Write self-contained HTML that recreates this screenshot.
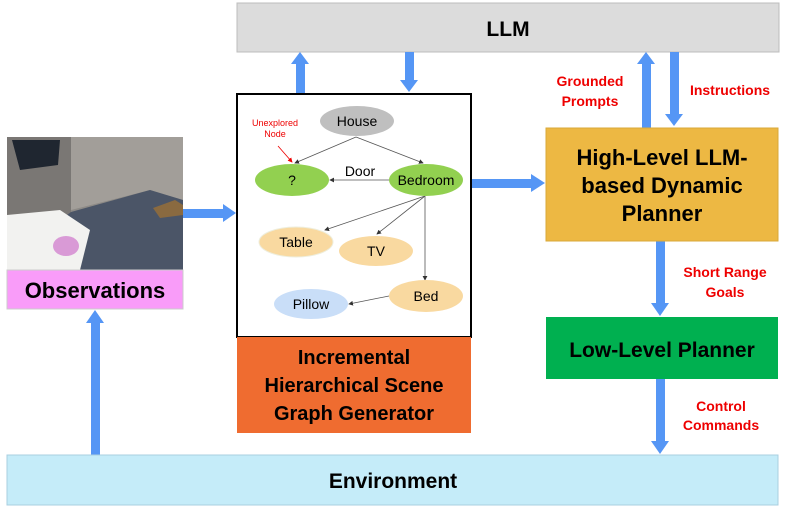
<!DOCTYPE html>
<html><head><meta charset="utf-8"><style>body{margin:0;background:#fff}svg{display:block}</style></head><body>
<svg width="785" height="511" viewBox="0 0 785 511" xmlns="http://www.w3.org/2000/svg" font-family="Liberation Sans, Arial, sans-serif">
<defs>
<marker id="m" markerWidth="6" markerHeight="6" refX="5" refY="3" orient="auto"><path d="M0,0 L6,3 L0,6z" fill="#333"/></marker>
<marker id="mr" markerWidth="6" markerHeight="6" refX="5" refY="3" orient="auto"><path d="M0,0 L6,3 L0,6z" fill="#e00"/></marker>
</defs>
<!-- LLM -->
<rect x="237" y="3" width="542" height="49" fill="#dcdcdc" stroke="#bdbdbd"/>
<text x="508" y="36" font-size="21" font-weight="bold" text-anchor="middle">LLM</text>
<g fill="#5596f5">
<!-- up x300 -->
<rect x="296" y="62" width="9" height="32"/><path d="M291,64 L300,52 L309,64z"/>
<rect x="405" y="52" width="9" height="30"/><path d="M400,80 L409,92 L418,80z"/>
<rect x="642" y="62" width="9" height="66"/><path d="M637,64 L646,52 L655,64z"/>
<rect x="670" y="52" width="9" height="64"/><path d="M665,114 L674,126 L683,114z"/>
<!-- obs->graph -->
<rect x="183" y="209" width="42" height="9"/><path d="M223,204 L236,213 L223,222z"/>
<!-- graph->planner -->
<rect x="471" y="179" width="62" height="9"/><path d="M531,174 L545,183 L531,192z"/>
<rect x="656" y="241" width="9" height="64"/><path d="M651,303 L660,316 L669,303z"/>
<rect x="656" y="379" width="9" height="64"/><path d="M651,441 L660,454 L669,441z"/>
<rect x="91" y="321" width="9" height="134"/><path d="M86,323 L95,310 L104,323z"/>
</g>
<!-- Observation image -->
<rect x="7" y="137" width="176" height="133" fill="#8d8a86"/>
<path d="M7,137 L71,137 L71,225 L7,260z" fill="#7a7774"/>
<path d="M71,137 L183,137 L183,200 L150,190 L71,210z" fill="#a29e99"/>
<path d="M7,260 L71,212 L150,190 L183,200 L183,270 L7,270z" fill="#4b5567"/>
<path d="M12,140 L60,140 L58,165 L20,170z" fill="#1f2630"/>
<path d="M7,215 L60,210 L90,230 L80,270 L7,270z" fill="#f2f2f0"/>
<ellipse cx="66" cy="246" rx="13" ry="10" fill="#d99ad6"/>
<path d="M153,208 L175,200 L183,205 L183,215 L160,218z" fill="#8a6a40"/>
<rect x="7" y="270" width="176" height="39" fill="#f99cf9" stroke="#ccc"/>
<text x="95" y="298" font-size="22" font-weight="bold" text-anchor="middle">Observations</text>
<!-- Graph box -->
<rect x="237" y="94" width="234" height="243" fill="#fff" stroke="#000" stroke-width="2"/>
<rect x="237" y="337" width="234" height="96" fill="#ef6c30"/>
<g font-size="20" font-weight="bold" text-anchor="middle">
<text x="354" y="364">Incremental</text>
<text x="354" y="392">Hierarchical Scene</text>
<text x="354" y="420">Graph Generator</text>
</g>
<g stroke="#555" stroke-width="0.8" fill="none" marker-end="url(#m)">
<line x1="356" y1="137" x2="295" y2="163"/>
<line x1="356" y1="137" x2="423" y2="163"/>
<line x1="389" y1="180" x2="330" y2="180"/>
<line x1="425" y1="196" x2="325" y2="230"/>
<line x1="425" y1="196" x2="377" y2="234"/>
<line x1="425" y1="196" x2="425" y2="280"/>
<line x1="389" y1="296" x2="349" y2="304"/>
</g>
<line x1="278" y1="146" x2="292" y2="162" stroke="#e00" stroke-width="0.8" marker-end="url(#mr)"/>
<text x="275" y="126" font-size="9" fill="#e00" text-anchor="middle">Unexplored</text>
<text x="275" y="137" font-size="9" fill="#e00" text-anchor="middle">Node</text>
<g font-size="14" text-anchor="middle">
<ellipse cx="357" cy="121" rx="37" ry="15" fill="#bfbfbf"/><text x="357" y="126">House</text>
<ellipse cx="292" cy="180" rx="37" ry="16" fill="#92d050"/><text x="292" y="185">?</text>
<ellipse cx="426" cy="180" rx="37" ry="16" fill="#92d050"/><text x="426" y="185">Bedroom</text>
<text x="360" y="176">Door</text>
<ellipse cx="296" cy="242" rx="37" ry="15" fill="#f9d9a0" stroke="#eed"/><text x="296" y="247">Table</text>
<ellipse cx="376" cy="251" rx="37" ry="15" fill="#f9d9a0"/><text x="376" y="256">TV</text>
<ellipse cx="426" cy="296" rx="37" ry="16" fill="#f9d9a0"/><text x="426" y="301">Bed</text>
<ellipse cx="311" cy="304" rx="37" ry="15" fill="#c9def8"/><text x="311" y="309">Pillow</text>
</g>
<!-- Planners -->
<rect x="546" y="128" width="232" height="113" fill="#edb843" stroke="#d9a93a"/>
<g font-size="22" font-weight="bold" text-anchor="middle">
<text x="662" y="165">High-Level LLM-</text>
<text x="662" y="193">based Dynamic</text>
<text x="662" y="221">Planner</text>
<rect x="546" y="317" width="232" height="62" fill="#00b050"/>
<text x="662" y="357" font-size="21">Low-Level Planner</text>
</g>
<g font-size="14" font-weight="bold" fill="#e00" text-anchor="middle">
<text x="590" y="86">Grounded</text><text x="590" y="106">Prompts</text>
<text x="730" y="95">Instructions</text>
<text x="725" y="277">Short Range</text><text x="725" y="297">Goals</text>
<text x="721" y="411">Control</text><text x="721" y="430">Commands</text>
</g>
<rect x="7" y="455" width="771" height="50" fill="#c5ecf9" stroke="#a9cfe0"/>
<text x="393" y="488" font-size="21" font-weight="bold" text-anchor="middle">Environment</text>
</svg>
</body></html>
